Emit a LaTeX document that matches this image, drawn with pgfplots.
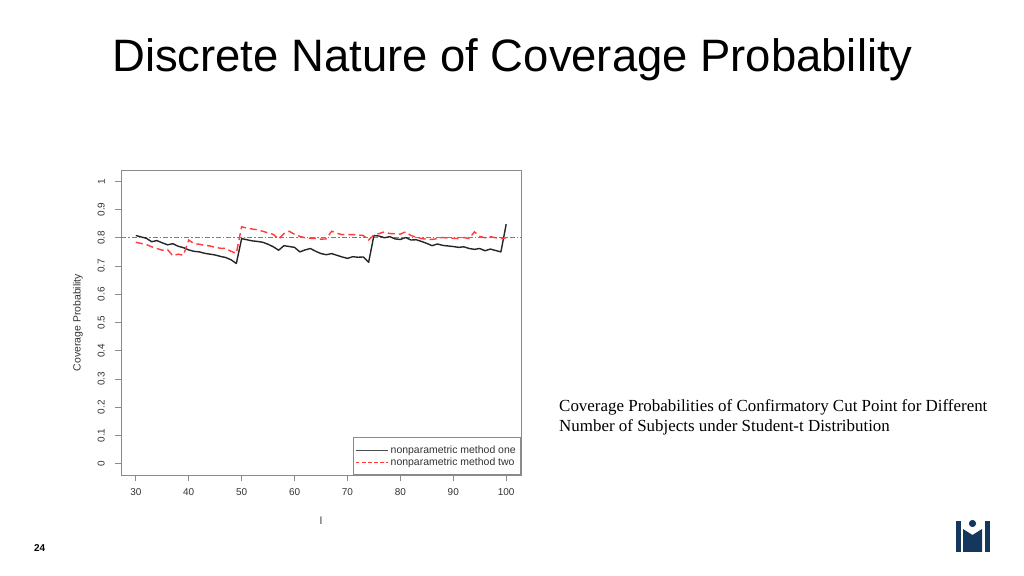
\documentclass[border=0pt]{standalone}
\usepackage{fontspec}
\setmainfont{Liberation Sans}
\newfontfamily\capfont{Liberation Serif}
\usepackage{pgfplots}
\usepackage{pgfplotstable}
\pgfplotsset{compat=1.18}
\definecolor{navy}{HTML}{14375E}
\definecolor{rline}{HTML}{FF3B3B}
\definecolor{framegray}{HTML}{8A8A8A}
\definecolor{txt}{HTML}{333333}
\definecolor{refblue}{RGB}{110,110,255}

\pgfplotstableread{
l one two
30 0.808 0.784
31 0.803 0.780
32 0.798 0.776
33 0.786 0.768
34 0.790 0.762
35 0.782 0.756
36 0.775 0.758
37 0.779 0.736
38 0.770 0.742
39 0.765 0.738
40 0.757 0.792
41 0.752 0.779
42 0.750 0.777
43 0.745 0.773
44 0.742 0.771
45 0.739 0.766
46 0.734 0.763
47 0.730 0.762
48 0.722 0.752
49 0.709 0.745
50 0.797 0.839
51 0.793 0.834
52 0.789 0.831
53 0.787 0.828
54 0.784 0.823
55 0.777 0.817
56 0.768 0.812
57 0.756 0.795
58 0.772 0.815
59 0.769 0.823
60 0.766 0.812
61 0.750 0.805
62 0.757 0.800
63 0.762 0.798
64 0.752 0.798
65 0.744 0.795
66 0.740 0.796
67 0.744 0.823
68 0.738 0.816
69 0.732 0.811
70 0.727 0.811
71 0.733 0.811
72 0.731 0.810
73 0.732 0.808
74 0.713 0.792
75 0.808 0.810
76 0.806 0.815
77 0.800 0.821
78 0.804 0.815
79 0.796 0.814
80 0.794 0.813
81 0.801 0.821
82 0.792 0.808
83 0.793 0.802
84 0.787 0.797
85 0.780 0.795
86 0.772 0.794
87 0.778 0.797
88 0.773 0.801
89 0.771 0.799
90 0.769 0.798
91 0.766 0.797
92 0.768 0.801
93 0.762 0.797
94 0.759 0.821
95 0.762 0.805
96 0.754 0.800
97 0.760 0.804
98 0.755 0.800
99 0.750 0.797
100 0.848 0.800
}\cpdata

\pgfplotstableread{
l v
27.2 0.8
102.8 0.8
}\refline

\begin{document}
\begin{tikzpicture}[x=1bp,y=1bp]
\path[use as bounding box] (0,0) rectangle (1024,576);
\fill[white] (0,0) rectangle (1024,576);
\node[text=black] at (512.5,516.5) {\fontsize{45.6}{54}\selectfont Discrete Nature of Coverage Probability};

\begin{axis}[
  at={(121bp,101bp)}, anchor=south west,
  scale only axis, width=400bp, height=305bp,
  xmin=27.2, xmax=102.8, ymin=-0.04, ymax=1.04,
  xtick={30,40,50,60,70,80,90,100},
  xticklabels={30,40,50,60,70,80,90,100},
  ytick={0,0.1,0.2,0.3,0.4,0.5,0.6,0.7,0.8,0.9,1},
  yticklabels={0,0.1,0.2,0.3,0.4,0.5,0.6,0.7,0.8,0.9,1},
  /pgf/number format/assume math mode=true,
  tick align=outside, xtick pos=bottom, ytick pos=left,
  major tick length=6bp,
  axis line style={framegray, line width=0.8bp},
  tick style={framegray, line width=0.8bp},
  ticklabel style={font=\fontsize{10}{12}\selectfont, text=txt},
  yticklabel style={rotate=90, anchor=south, inner ysep=10bp},
  xticklabel style={anchor=north, inner ysep=7bp},
  xlabel={l},
  ylabel={Coverage Probability},
  label style={font=\fontsize{10.5}{12}\selectfont, text=txt},
  xlabel style={at={(axis description cs:0.5,-0.138)}, anchor=north, inner sep=0pt},
  ylabel style={at={(axis description cs:-0.095,0.5)}, anchor=south, inner sep=0pt},
  legend style={at={(1,0)}, anchor=south east, draw=framegray, line width=0.6bp,
    font=\fontsize{10.5}{11}\selectfont, text=txt,
    inner xsep=3bp, inner ysep=6bp, row sep=-1bp},
  legend cell align=left,
  legend image code/.code={\path (-5bp,0) -- (27bp,0); \draw[#1] (2bp,0) -- (24bp,0);},
  clip=true,
]
\addplot[color=refblue, line width=1bp, dash pattern=on 5bp off 2bp on 1.5bp off 2bp, mark=none, forget plot] table[x=l,y=v] {\refline};
\addplot[draw=black!85, line width=1.4bp, line join=round, forget plot] table[x=l,y=one] {\cpdata};
\addplot[draw=rline, line width=1.4bp, dash pattern=on 7bp off 4bp, forget plot] table[x=l,y=two] {\cpdata};
\addlegendimage{draw=black!70, line width=0.6bp}
\addlegendentry{nonparametric method one}
\addlegendimage{draw=rline, line width=0.6bp, dashed}
\addlegendentry{nonparametric method two}
\end{axis}

\node[anchor=base west, inner sep=0pt] at (559,164) {\capfont\fontsize{17}{20}\selectfont Coverage Probabilities of Confirmatory Cut Point for Different};
\node[anchor=base west, inner sep=0pt] at (559,144) {\capfont\fontsize{17}{20}\selectfont Number of Subjects under Student-t Distribution};

\node[anchor=base west, inner sep=0] at (34,24) {\fontsize{10}{12}\selectfont\bfseries 24};

\fill[navy] (956,24) rectangle (961,55);
\fill[navy] (985,24) rectangle (990,55);
\fill[navy] (963,24) -- (963,47) -- (972.5,41) -- (982,47) -- (982,24) -- cycle;
\fill[navy] (972.5,52.5) circle (3.6);
\end{tikzpicture}
\end{document}
